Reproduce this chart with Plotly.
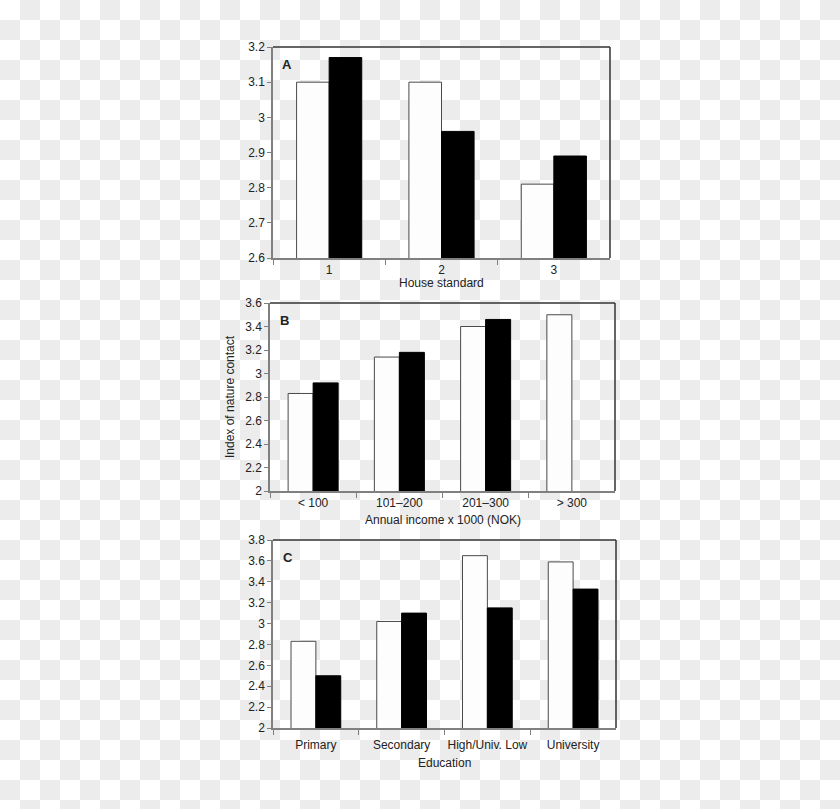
import base64
import plotly.graph_objects as go

# values
house_cats = ["1", "2", "3"]
house_white = [3.10, 3.10, 2.81]
house_black = [3.17, 2.96, 2.89]
house_ticks = [2.6, 2.7, 2.8, 2.9, 3.0, 3.1, 3.2]
house_tick_text = ["2.6", "2.7", "2.8", "2.9", "3", "3.1", "3.2"]

income_cats = ["< 100", "101–200", "201–300", "> 300"]
income_white = [2.83, 3.14, 3.40, 3.50]
income_black = [2.92, 3.18, 3.46, None]

edu_cats = ["Primary", "Secondary", "High/Univ. Low", "University"]
edu_white = [2.83, 3.02, 3.65, 3.59]
edu_black = [2.50, 3.10, 3.15, 3.33]

b_ticks = [2.0, 2.2, 2.4, 2.6, 2.8, 3.0, 3.2, 3.4, 3.6]
b_tick_text = ["2", "2.2", "2.4", "2.6", "2.8", "3", "3.2", "3.4", "3.6"]
c_ticks = [2.0, 2.2, 2.4, 2.6, 2.8, 3.0, 3.2, 3.4, 3.6, 3.8]
c_tick_text = ["2", "2.2", "2.4", "2.6", "2.8", "3", "3.2", "3.4", "3.6", "3.8"]

W, H = 840, 809
font = dict(family="Liberation Sans, Arial, sans-serif", size=12, color="#222222")
n_cats = {"": 3, "2": 4, "3": 4}

fig = go.Figure()
panels = [
    ("", house_cats, house_white, house_black),
    ("2", income_cats, income_white, income_black),
    ("3", edu_cats, edu_white, edu_black),
]
for n, cats, white, black in panels:
    fig.add_trace(go.Bar(x=cats, y=white, xaxis="x" + n, yaxis="y" + n,
                         marker=dict(color="#fdfdfd", line=dict(color="#4a4a4a", width=1)),
                         showlegend=False))
    fig.add_trace(go.Bar(x=cats, y=black, xaxis="x" + n, yaxis="y" + n,
                         marker=dict(color="#000000", line=dict(color="#000000", width=1)),
                         showlegend=False))

def xax(x0, x1, n, standoff=0):
    return dict(domain=[x0 / W, x1 / W], anchor="y" + n, type="category", automargin=False,
                range=[-0.5, n_cats[n] - 0.5], showline=True, linecolor="#808080", linewidth=1.5,
                ticks="outside", tickson="boundaries", ticklen=5, tickcolor="#808080",
                showgrid=False, zeroline=False, tickfont=font, tickangle=0,
                ticklabelstandoff=standoff)

def yax(y0, y1, n, rng, vals, text):
    return dict(domain=[1 - y1 / H, 1 - y0 / H], anchor="x" + n, range=rng, automargin=False,
                tickmode="array", tickvals=vals, ticktext=text,
                showline=True, linecolor="#808080", linewidth=1.5,
                ticks="outside", ticklen=4, tickcolor="#808080",
                showgrid=False, zeroline=False, tickfont=font)

# transparent-looking checkerboard behind everything
checker = ('<svg xmlns="http://www.w3.org/2000/svg" width="840" height="809">'
           '<defs><pattern id="c" width="40" height="40" patternUnits="userSpaceOnUse">'
           '<rect width="40" height="40" fill="#ffffff"/>'
           '<rect x="20" width="20" height="20" fill="#ececec"/>'
           '<rect y="20" width="20" height="20" fill="#ececec"/>'
           '</pattern></defs><rect width="840" height="809" fill="url(#c)"/></svg>')
checker_src = "data:image/svg+xml;base64," + base64.b64encode(checker.encode()).decode()

shapes = []
for n in ["", "2", "3"]:
    shapes.append(dict(type="line", xref="x" + n + " domain", yref="y" + n + " domain",
                       x0=0, x1=1, y0=1, y1=1, line=dict(color="#333333", width=1.5)))
    shapes.append(dict(type="line", xref="x" + n + " domain", yref="y" + n + " domain",
                       x0=1, x1=1, y0=0, y1=1, line=dict(color="#333333", width=1.5)))

annotations = []
for n, letter in [("", "A"), ("2", "B"), ("3", "C")]:
    annotations.append(dict(text="<b>" + letter + "</b>", xref="x" + n + " domain", yref="y" + n + " domain",
                            x=0.022, y=1, xanchor="left", yanchor="top", yshift=-8, showarrow=False,
                            font=dict(family=font["family"], size=13, color="#222222")))
for n, title, shift in [("", "House standard", -16), ("2", "Annual income x 1000 (NOK)", -20),
                        ("3", "Education", -26)]:
    annotations.append(dict(text=title, xref="x" + n + " domain", yref="y" + n + " domain",
                            x=0.5, y=0, xanchor="center", yanchor="top", yshift=shift,
                            showarrow=False, font=font))
annotations.append(dict(text="Index of nature contact", xref="paper", yref="y2 domain",
                        x=230 / W, y=0.5, xanchor="center", yanchor="middle", textangle=-90,
                        showarrow=False, font=font))

fig.update_layout(
    width=W, height=H,
    margin=dict(l=0, r=0, t=0, b=0, pad=0, autoexpand=False),
    paper_bgcolor="#ffffff", plot_bgcolor="rgba(0,0,0,0)",
    barmode="group", bargap=0.42, bargroupgap=0,
    font=font,
    xaxis=xax(273, 610, ""),
    yaxis=yax(47, 258, "", [2.6, 3.2], house_ticks, house_tick_text),
    xaxis2=xax(270, 615, "2"),
    yaxis2=yax(303, 491, "2", [2, 3.6], b_ticks, b_tick_text),
    xaxis3=xax(273, 616, "3", standoff=5),
    yaxis3=yax(540, 728, "3", [2, 3.8], c_ticks, c_tick_text),
    shapes=shapes,
    annotations=annotations,
    images=[dict(source=checker_src, xref="paper", yref="paper", x=0, y=1, sizex=1, sizey=1,
                 xanchor="left", yanchor="top", sizing="stretch", layer="below")],
)

fig.write_html("out.html", config={"displayModeBar": False},
               post_script="document.body.style.margin = '0';")
